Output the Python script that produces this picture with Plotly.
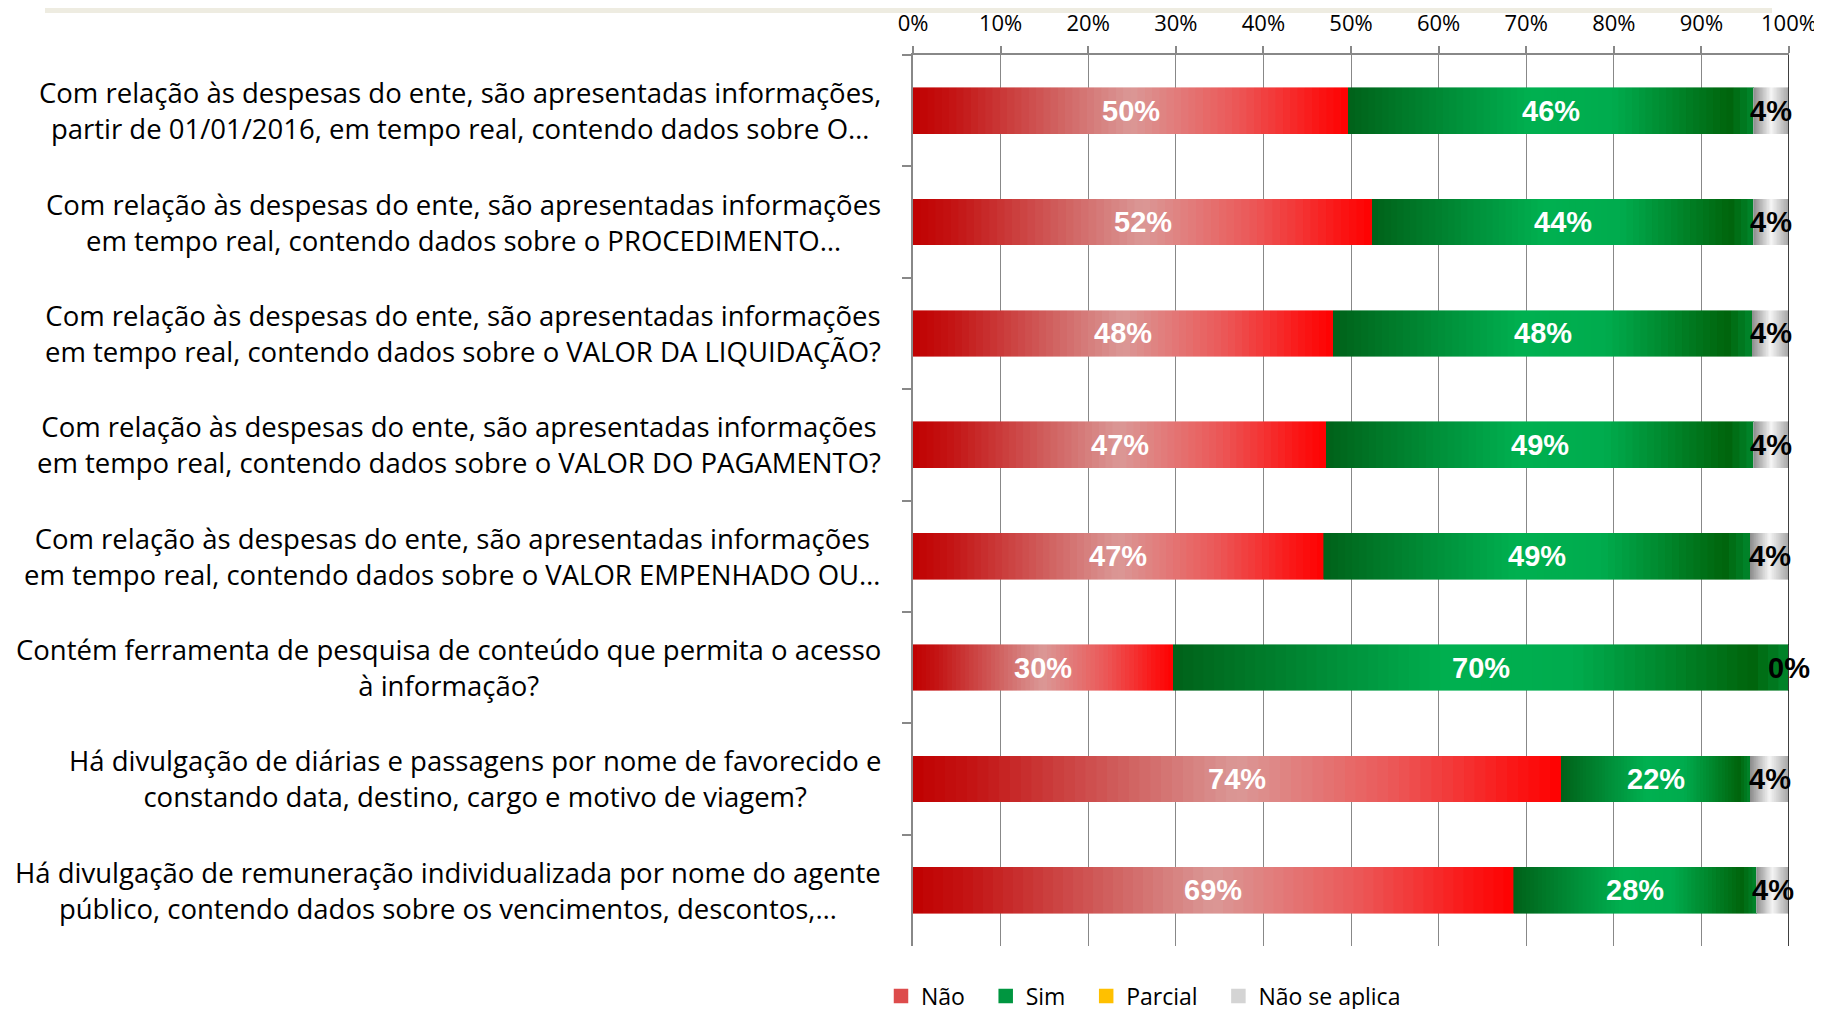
import numpy as np
import plotly.graph_objects as go

# ---------------- data ----------------
categories = [
    "Com relação às despesas do ente, são apresentadas informações,<br>partir de 01/01/2016, em tempo real, contendo dados sobre O…",
    "Com relação às despesas do ente, são apresentadas informações<br>em tempo real, contendo dados sobre o PROCEDIMENTO…",
    "Com relação às despesas do ente, são apresentadas informações<br>em tempo real, contendo dados sobre o VALOR DA LIQUIDAÇÃO?",
    "Com relação às despesas do ente, são apresentadas informações<br>em tempo real, contendo dados sobre o VALOR DO PAGAMENTO?",
    "Com relação às despesas do ente, são apresentadas informações<br>em tempo real, contendo dados sobre o VALOR EMPENHADO OU…",
    "Contém ferramenta de pesquisa de conteúdo que permita o acesso<br>à informação?",
    "Há divulgação de diárias e passagens por nome de favorecido e<br>constando data, destino, cargo e motivo de viagem?",
    "Há divulgação de remuneração individualizada por nome do agente<br>público, contendo dados sobre os vencimentos, descontos,…",
]
nao = [49.7, 52.4, 48.0, 47.2, 46.9, 29.7, 74.0, 68.6]
sim = [46.3, 43.6, 47.8, 48.8, 48.7, 70.3, 21.6, 27.7]
parcial = [0, 0, 0, 0, 0, 0, 0, 0]
nao_se_aplica = [4.0, 4.0, 4.2, 4.0, 4.4, 0.0, 4.4, 3.7]
series_names = ["Não", "Sim", "Parcial", "Não se aplica"]
x_ticks = [0, 10, 20, 30, 40, 50, 60, 70, 80, 90, 100]

# ---------------- styling ----------------
W, H = 1822, 1009
OFF = 8  # page body margin
L, R, T, B = 913 - OFF, 33 + OFF, 55 - OFF, 1009 - (946 - OFF)
PW, PH = W - L - R, H - T - B
FONT = "Open Sans"
LBL_FONT = "Liberation Sans"

grad_nao = [(0.0, (192, 0, 0)), (0.1, (196, 22, 22)), (0.5, (218, 152, 150)),
            (0.75, (236, 85, 85)), (0.92, (250, 25, 25)), (1.0, (255, 0, 0))]
grad_sim = [(0.0, (0, 98, 25)), (0.45, (0, 176, 80)), (0.65, (0, 172, 78)),
            (0.94, (0, 100, 12)), (1.0, (0, 135, 45))]
grad_nsa = [(0.0, (140, 140, 140)), (0.5, (245, 245, 245)), (1.0, (165, 165, 165))]
NSEG = 60


def grad_color(stops, t):
    for (t0, c0), (t1, c1) in zip(stops[:-1], stops[1:]):
        if t <= t1:
            f = (t - t0) / (t1 - t0) if t1 > t0 else 0
            c = [round(a + (b - a) * f) for a, b in zip(c0, c1)]
            return "rgb(%d,%d,%d)" % tuple(c)
    return "rgb(%d,%d,%d)" % stops[-1][1]


fig = go.Figure()


def add_gradient(values, stops, name):
    vals = np.array(values, dtype=float)
    for i in range(NSEG):
        t = (i + 0.5) / NSEG
        col = grad_color(stops, t)
        fig.add_trace(go.Bar(
            y=categories, x=vals / NSEG, orientation="h",
            marker=dict(color=col, line=dict(width=0.6, color=col)),
            showlegend=False, hoverinfo="skip", name=name,
        ))


add_gradient(nao, grad_nao, "Não")
add_gradient(sim, grad_sim, "Sim")
fig.add_trace(go.Bar(y=categories, x=parcial, orientation="h", marker_color="#FFC000",
                     showlegend=False, hoverinfo="skip"))
add_gradient(nao_se_aplica, grad_nsa, "Não se aplica")

# legend entries
legend_colors = ["#DD4C4C", "#009640", "#FFC000", "#D4D4D4"]
for nm, col in zip(series_names, legend_colors):
    fig.add_trace(go.Bar(y=categories, x=[0] * len(categories), orientation="h",
                         marker=dict(color=col, line=dict(width=2.5, color=col)),
                         name=nm + "\u00a0\u00a0\u2009", showlegend=True, hoverinfo="skip"))

# data labels
cum = np.zeros(len(categories))
for vals, col in [(nao, "white"), (sim, "white"), (nao_se_aplica, "black")]:
    v = np.array(vals, dtype=float)
    mids = cum + v / 2
    for c, m, val in zip(categories, mids, v):
        fig.add_annotation(x=m, y=c, xref="x", yref="y", text="%d%%" % round(val),
                           showarrow=False, font=dict(family=LBL_FONT, size=29, color=col, weight="bold"))
    cum = cum + v

# category labels
for c in categories:
    fig.add_annotation(x=(883 - 913) / PW, y=c, xref="paper", yref="y", text=c, showarrow=False,
                       xanchor="right", align="center",
                       font=dict(family=FONT, size=27.5, color="#000000"))

# top beige band
fig.add_shape(type="rect", xref="paper", yref="paper",
              x0=(45 - OFF - L) / PW, x1=(1772 - OFF - L) / PW,
              y0=1 + (T - (13 - OFF)) / PH, y1=1 + T / PH,
              fillcolor="#EEECE1", line_width=0, layer="below")
# right border at 100%
fig.add_shape(type="line", xref="x", yref="paper", x0=100, x1=100, y0=0, y1=1,
              line=dict(color="#000000", width=1.5))

fig.update_layout(
    width=W, height=H,
    margin=dict(l=L, r=R, t=T, b=B, autoexpand=False),
    barmode="stack", bargap=0.59,
    plot_bgcolor="white", paper_bgcolor="white",
    font=dict(family=FONT, color="#000000"),
    xaxis=dict(side="top", range=[0, 100], tickvals=x_ticks,
               ticktext=["%d%%" % v for v in x_ticks],
               showgrid=True, gridcolor="#888888", gridwidth=1.2,
               showline=True, linecolor="#888888", linewidth=2,
               ticks="outside", ticklen=7, tickcolor="#888888", tickwidth=1.5,
               tickfont=dict(family=FONT, size=22, color="#000000"),
               ticklabelstandoff=6, zeroline=False, fixedrange=True, automargin=False),
    yaxis=dict(autorange="reversed", showticklabels=False, showgrid=False,
               showline=True, linecolor="#888888", linewidth=2,
               ticks="outside", ticklen=9, tickcolor="#888888", tickwidth=1.5,
               tickson="boundaries", fixedrange=True, automargin=False),
    legend=dict(orientation="h", xref="paper", x=(881 - OFF - L) / PW, xanchor="left",
                yref="container", y=1 - (996 - OFF) / H, yanchor="middle",
                font=dict(family=FONT, size=23, color="#000000"),
                itemwidth=30, traceorder="normal", bgcolor="rgba(0,0,0,0)"),
    showlegend=True,
)

fig.write_html("out.html")
